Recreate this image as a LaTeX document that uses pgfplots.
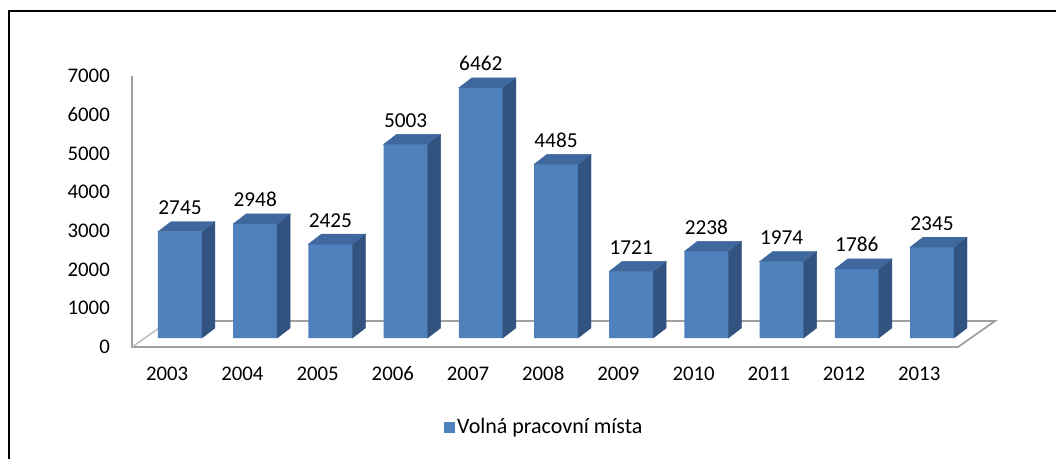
\documentclass[border=0pt]{standalone}
\usepackage{pgfplots}
\pgfplotsset{compat=1.18}
\usepackage{fontspec}
\setmainfont{Carlito}
\definecolor{frontcol}{RGB}{79,129,189}
\definecolor{sidecol}{RGB}{50,82,128}
\definecolor{topcol}{RGB}{62,104,158}
\definecolor{axgray}{RGB}{160,160,160}
\begin{document}
\begin{tikzpicture}
\useasboundingbox (0pt,0pt) rectangle (1056pt,459pt);
\fill[white] (0pt,0pt) rectangle (1056pt,459pt);
% frame
\draw[black, line width=1.6pt] (9pt,0pt) -- (9pt,448pt) -- (1056pt,448pt);
% wall and floor
\draw[axgray, line width=1.8pt] (132pt,383pt) -- (132pt,112pt) -- (958pt,112pt) -- (995pt,138pt) -- (169pt,138pt);
\draw[axgray!70, line width=1.5pt] (132pt,112pt) -- (169pt,138pt);
\begin{axis}[
  at={(144.8pt,121pt)}, anchor=south west,
  scale only axis, width=826pt, height=271pt,
  xmin=-0.468, xmax=10.516, ymin=0, ymax=7000,
  axis line style={draw=none}, tick style={draw=none},
  major tick length=0pt,
  xtick={0,...,10},
  xticklabels={2003,2004,2005,2006,2007,2008,2009,2010,2011,2012,2013},
  ytick={0,1000,...,7000},
  /pgf/number format/assume math mode=true,
  /pgf/number format/1000 sep={},
  tick label style={font=\fontsize{20.8}{24}\selectfont},
  yticklabel style={anchor=east, inner sep=0pt, xshift=-34.8pt, yshift=-9pt},
  xticklabel style={anchor=base, inner sep=0pt, xshift=-12.8pt, yshift=-42.5pt},
  legend style={draw=none, fill=none, at={(0.3622,-0.3284)}, anchor=west,
    font=\fontsize{22}{26}\selectfont, inner sep=0pt},
  legend image code/.code={\fill[frontcol] (0pt,-5.5pt) rectangle (11pt,5.5pt);},
  clip=false,
]
\addplot[ybar, bar width=44pt, fill=frontcol, draw=none,
  nodes near coords,
  every node near coord/.append style={anchor=base, inner sep=0pt, yshift=17pt,
     font=\fontsize{21.3}{25}\selectfont, text=black}]
  coordinates {(0,2745) (1,2948) (2,2425) (3,5003) (4,6462) (5,4485) (6,1721) (7,2238) (8,1974) (9,1786) (10,2345)};
\addlegendentry{Volná pracovní místa}
\addplot[scatter, only marks, mark=*, mark size=0pt, 
  scatter/use mapped color={draw=none, fill=none},
  forget plot,
  visualization depends on={y \as \rawy},
  scatter/@pre marker code/.code={%
    \pgfmathsetmacro\hh{\rawy/7000*271}%
    \fill[sidecol] (22pt,0pt) -- (35pt,10pt) -- (35pt,10pt-\hh pt) -- (22pt,-\hh pt) -- cycle;
    \fill[topcol] (-22pt,0pt) -- (22pt,0pt) -- (35pt,10pt) -- (-9pt,10pt) -- cycle;
  },
  scatter/@post marker code/.code={}]
  coordinates {(0,2745) (1,2948) (2,2425) (3,5003) (4,6462) (5,4485) (6,1721) (7,2238) (8,1974) (9,1786) (10,2345)};
\end{axis}
\end{tikzpicture}
\end{document}
